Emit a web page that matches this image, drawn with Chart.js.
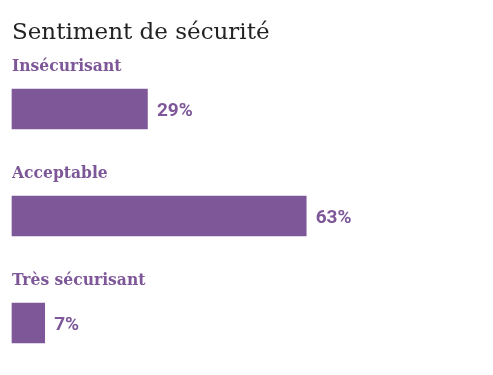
<!DOCTYPE html>
<html><head><meta charset="utf-8">
<script src="https://cdn.jsdelivr.net/npm/chart.js@4"></script>
<style>html,body{margin:0;padding:0;background:#fff}#w{width:493px;height:375px;position:relative}</style>
</head><body><div id="w"><canvas id="c"></canvas></div>
<script>
const title = "Sentiment de sécurité";
const categories = ["Insécurisant", "Acceptable", "Très sécurisant"];
const values = [29, 63, 7];
const valueLabels = ["29%", "63%", "7%"];
const purple = "#7d5798";

const labelsPlugin = {
  id: 'labelsPlugin',
  afterDatasetsDraw(chart) {
    const ctx = chart.ctx;
    const meta = chart.getDatasetMeta(0);
    const xs = chart.scales.x;
    ctx.save();
    ctx.textBaseline = 'alphabetic';
    ctx.textAlign = 'left';
    ctx.fillStyle = '#222';
    ctx.font = '400 23px "DejaVu Serif"';
    ctx.fillText(title, 12, 38.5);
    meta.data.forEach((bar, i) => {
      ctx.fillStyle = purple;
      ctx.font = '700 17.3px "DejaVu Serif Condensed"';
      ctx.fillText(categories[i], xs.left, bar.y - 38.3);
      ctx.font = '700 19px Roboto';
      ctx.fillText(valueLabels[i], bar.x + 9.5, bar.y + 7);
    });
    ctx.restore();
  }
};

new Chart(document.getElementById('c'), {
  type: 'bar',
  data: { labels: categories, datasets: [{ data: values, backgroundColor: purple, barThickness: 40, clip: false }] },
  options: {
    indexAxis: 'y', responsive: true, maintainAspectRatio: false, animation: false,
    layout: { padding: { left: 12, right: 14, top: 109, bottom: 52 } },
    scales: {
      x: { display: false, min: 0, max: 100 },
      y: { display: false, offset: false }
    },
    plugins: { legend: { display: false }, tooltip: { enabled: false } }
  },
  plugins: [labelsPlugin]
});
</script></body></html>
